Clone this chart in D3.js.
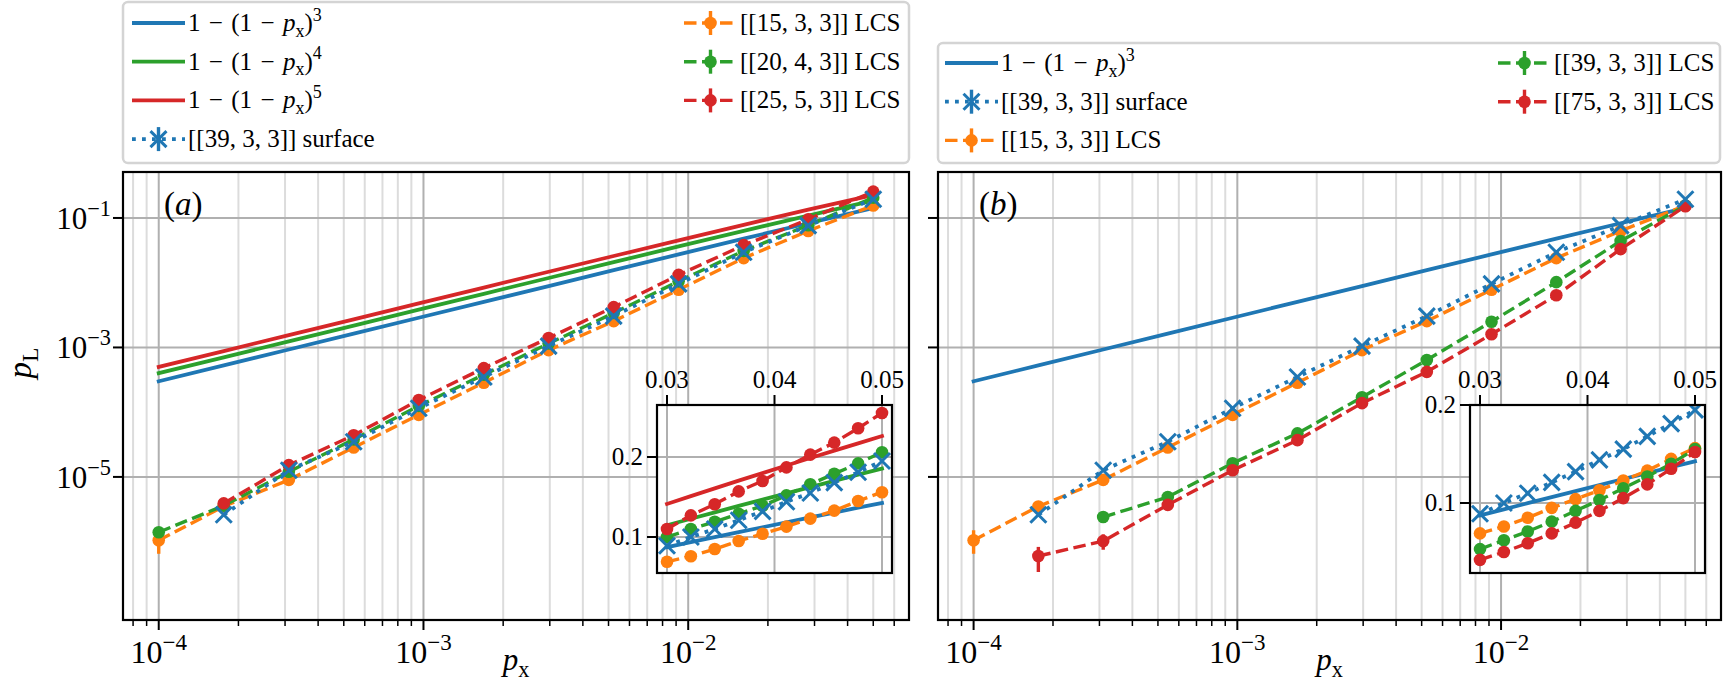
<!DOCTYPE html>
<html>
<head>
<meta charset="utf-8">
<script src="https://cdn.jsdelivr.net/npm/d3@7"></script>
<style>
  body { margin: 0; background: #fff; }
  svg { display: block; font-family: "Liberation Serif", "DejaVu Serif", serif; }
</style>
</head>
<body>
<svg id="chart" width="1725" height="683"></svg>
<script>
// physical error rates (main panels, log axis) and the zoomed inset range
const pxMain = [1e-4, 1.76e-4, 3.10e-4, 5.45e-4, 9.6e-4, 1.69e-3, 2.97e-3, 5.23e-3, 9.2e-3, 1.62e-2, 2.84e-2, 5.0e-2];
const pxInset = [0.03, 0.03222, 0.03444, 0.03667, 0.03889, 0.04111, 0.04333, 0.04556, 0.04778, 0.05];

// 1-(1-px)^n reference curves, read at the same px
const ref3 = [3.0e-4, 5.28e-4, 9.30e-4, 1.634e-3, 2.877e-3, 5.061e-3, 8.884e-3, 1.561e-2, 2.735e-2, 4.782e-2, 8.28e-2, 0.1426];
const ref4 = [4.0e-4, 7.04e-4, 1.24e-3, 2.178e-3, 3.835e-3, 6.743e-3, 1.183e-2, 2.074e-2, 3.63e-2, 6.32e-2, 0.1089, 0.1855];
const ref5 = [5.0e-4, 8.80e-4, 1.549e-3, 2.722e-3, 4.791e-3, 8.42e-3, 1.476e-2, 2.587e-2, 4.516e-2, 7.84e-2, 0.1342, 0.2262];
const ref3In = [0.0873, 0.0936, 0.0998, 0.1060, 0.1122, 0.1183, 0.1245, 0.1305, 0.1366, 0.1426];
const ref4In = [0.1147, 0.1228, 0.1308, 0.1388, 0.1467, 0.1546, 0.1624, 0.1701, 0.1779, 0.1855];
const ref5In = [0.1413, 0.1511, 0.1608, 0.1704, 0.1799, 0.1893, 0.1987, 0.2080, 0.2171, 0.2262];

// logical error rates, main panels (null = not measured)
const surface39 = [null, 2.6e-6, 1.27e-5, 3.5e-5, 1.15e-4, 3.5e-4, 1.05e-3, 3.05e-3, 9.6e-3, 2.95e-2, 7.6e-2, 0.195];
const lcs15 = [1.05e-6, 3.5e-6, 9.0e-6, 2.85e-5, 9.1e-5, 2.85e-4, 9.1e-4, 2.55e-3, 7.8e-3, 2.4e-2, 6.3e-2, 0.156];
const lcs20 = [1.4e-6, 3.6e-6, 1.2e-5, 3.8e-5, 1.25e-4, 3.8e-4, 1.15e-3, 3.4e-3, 1.05e-2, 3.1e-2, 7.7e-2, 0.206];
const lcs25 = [null, 3.9e-6, 1.52e-5, 4.4e-5, 1.54e-4, 4.8e-4, 1.4e-3, 4.2e-3, 1.32e-2, 3.8e-2, 9.5e-2, 0.255];
const lcs39 = [null, null, 2.4e-6, 4.9e-6, 1.63e-5, 4.7e-5, 1.7e-4, 6.4e-4, 2.5e-3, 1.02e-2, 4.4e-2, 0.155];
const lcs75 = [null, 6.0e-7, 1.02e-6, 3.7e-6, 1.27e-5, 3.7e-5, 1.38e-4, 4.2e-4, 1.6e-3, 6.4e-3, 3.3e-2, 0.152];

// visible error bars (lower / upper)
const lcs15Lo = [6.5e-7, null, null, null, null, null, null, null, null, null, null, null];
const lcs15Hi = [1.5e-6, null, null, null, null, null, null, null, null, null, null, null];
const lcs75Lo = [null, 3.4e-7, 7.5e-7, null, null, null, null, null, null, null, null, null];
const lcs75Hi = [null, 8.3e-7, 1.3e-6, null, null, null, null, null, null, null, null, null];

// inset values
const surface39In = [0.089, 0.100, 0.110, 0.121, 0.132, 0.144, 0.155, 0.168, 0.181, 0.195];
const lcs15In = [0.069, 0.076, 0.085, 0.095, 0.104, 0.113, 0.123, 0.133, 0.145, 0.156];
const lcs20In = [0.100, 0.110, 0.119, 0.129, 0.139, 0.152, 0.166, 0.179, 0.192, 0.206];
const lcs25In = [0.110, 0.127, 0.141, 0.157, 0.170, 0.187, 0.203, 0.218, 0.236, 0.255];
const lcs39In = [0.053, 0.062, 0.071, 0.081, 0.092, 0.103, 0.115, 0.127, 0.140, 0.155];
const lcs75In = [0.042, 0.050, 0.059, 0.069, 0.080, 0.092, 0.105, 0.119, 0.135, 0.152];

const yTicksMain = [1e-5, 1e-3, 1e-1];
const xTicksInset = [0.03, 0.04, 0.05];
const yTicksInset = [0.1, 0.2];

const C = { blue: "#1f77b4", orange: "#ff7f0e", green: "#2ca02c", red: "#d62728" };
const svg = d3.select("#chart");

const axTop = 172, axBottom = 620;
const xDomain = [Math.pow(10, -4.135), Math.pow(10, -1.166)];
const yDomain = [Math.pow(10, -7.21), Math.pow(10, -0.29)];
const SP = "\u2004"; // wider space around binary minus, like TeX math

function richText(g, x, y, parts, size, anchor) {
    const t = g.append("text")
        .attr("x", x).attr("y", y)
        .attr("font-size", size)
        .attr("text-anchor", anchor || "start")
        .attr("fill", "#000");
    let shift = 0;
    parts.forEach(p => {
        let target = 0, fs = size;
        if (p.sub) { target = size * 0.22; fs = size * 0.72; }
        if (p.sup) { target = -size * 0.42; fs = size * 0.72; }
        const s = t.append("tspan").attr("dy", target - shift).attr("font-size", fs).text(p.t);
        if (p.it) s.attr("font-style", "italic");
        shift = target;
    });
    return t;
}

const refLabel = n => [{ t: `1${SP}−${SP}(1${SP}−${SP}` }, { t: "p", it: true }, { t: "x", sub: true }, { t: ")" }, { t: n, sup: true }];
const pow10Label = v => [{ t: "10" }, { t: "−" + Math.abs(Math.round(Math.log10(v))), sup: true }];
const isDecade = v => Math.abs(Math.log10(v) - Math.round(Math.log10(v))) < 1e-6;

const styles = {
    ref: { dash: null, width: 3.8 },
    lcs: { dash: "12.5,5.5", width: 3.4 },
    surface: { dash: "3.8,6.2", width: 3.8 }
};

function drawMarker(g, kind, cx, cy, color) {
    if (kind === "surface") {
        g.append("path")
            .attr("d", `M${cx - 8},${cy - 8}L${cx + 8},${cy + 8}M${cx - 8},${cy + 8}L${cx + 8},${cy - 8}`)
            .attr("stroke", color).attr("stroke-width", 3).attr("fill", "none");
    } else if (kind === "lcs") {
        g.append("circle").attr("cx", cx).attr("cy", cy).attr("r", 6.3).attr("fill", color);
    }
}

function drawSeries(g, x, y, xs, s) {
    const pts = xs.map((v, i) => ({ x: v, y: s.vals[i], lo: s.lo ? s.lo[i] : null, hi: s.hi ? s.hi[i] : null }))
        .filter(d => d.y != null);
    const st = styles[s.kind];
    const line = d3.line().x(d => x(d.x)).y(d => y(d.y));
    g.append("path").datum(pts)
        .attr("d", line)
        .attr("fill", "none")
        .attr("stroke", s.color)
        .attr("stroke-width", st.width)
        .attr("stroke-dasharray", st.dash)
        .attr("stroke-linecap", s.kind === "ref" ? "square" : "butt");
    pts.forEach(d => {
        if (d.lo != null) {
            g.append("line")
                .attr("x1", x(d.x)).attr("x2", x(d.x))
                .attr("y1", y(d.lo)).attr("y2", y(d.hi))
                .attr("stroke", s.color).attr("stroke-width", 3.4);
        }
        drawMarker(g, s.kind, x(d.x), y(d.y), s.color);
    });
}

function drawMain(p) {
    const x = d3.scaleLog().domain(xDomain).range([p.left, p.right]);
    const y = d3.scaleLog().domain(yDomain).range([axBottom, axTop]);
    const g = svg.append("g");
    const clipId = "clip-" + p.tag;
    svg.append("clipPath").attr("id", clipId).append("rect")
        .attr("x", p.left).attr("y", axTop).attr("width", p.right - p.left).attr("height", axBottom - axTop);

    const xt = x.ticks();
    // grid
    xt.filter(v => !isDecade(v)).forEach(v => {
        g.append("line").attr("x1", x(v)).attr("x2", x(v)).attr("y1", axTop).attr("y2", axBottom)
            .attr("stroke", "#dcdcdc").attr("stroke-width", 2);
    });
    xt.filter(isDecade).forEach(v => {
        g.append("line").attr("x1", x(v)).attr("x2", x(v)).attr("y1", axTop).attr("y2", axBottom)
            .attr("stroke", "#b0b0b0").attr("stroke-width", 2);
    });
    yTicksMain.forEach(v => {
        g.append("line").attr("x1", p.left).attr("x2", p.right).attr("y1", y(v)).attr("y2", y(v))
            .attr("stroke", "#b0b0b0").attr("stroke-width", 2);
    });

    const data = g.append("g").attr("clip-path", `url(#${clipId})`);
    p.series.forEach(s => drawSeries(data, x, y, pxMain, s));

    // spines and ticks
    g.append("rect").attr("x", p.left).attr("y", axTop)
        .attr("width", p.right - p.left).attr("height", axBottom - axTop)
        .attr("fill", "none").attr("stroke", "#000").attr("stroke-width", 2.2);
    xt.forEach(v => {
        const major = isDecade(v);
        g.append("line").attr("x1", x(v)).attr("x2", x(v))
            .attr("y1", axBottom).attr("y2", axBottom + (major ? 10 : 6))
            .attr("stroke", "#000").attr("stroke-width", major ? 2 : 1.5);
        if (major) richText(g, x(v), axBottom + 43, pow10Label(v), 32, "middle");
    });
    yTicksMain.forEach(v => {
        g.append("line").attr("x1", p.left - 10).attr("x2", p.left)
            .attr("y1", y(v)).attr("y2", y(v))
            .attr("stroke", "#000").attr("stroke-width", 2);
        if (p.tag === "a") richText(g, p.left - 12, y(v) + 11, pow10Label(v), 31, "end");
    });

    // panel tag
    richText(g, p.left + 41, 215, [{ t: "(" }, { t: p.tag, it: true }, { t: ")" }], 33);
    // x label
    richText(g, (p.left + p.right) / 2, 670, [{ t: "p", it: true }, { t: "x", sub: true }], 31, "middle");

    drawInset(p.inset);
    drawLegend(p.legend);
}

function drawInset(ins) {
    const x = d3.scaleLinear().domain([0.02907, 0.05093]).range([ins.left, ins.right]);
    const y = d3.scaleLinear().domain(ins.yDomain).range([ins.bottom, ins.top]);
    const g = svg.append("g");
    const clipId = "clip-inset-" + ins.left;
    svg.append("clipPath").attr("id", clipId).append("rect")
        .attr("x", ins.left).attr("y", ins.top).attr("width", ins.right - ins.left).attr("height", ins.bottom - ins.top);

    g.append("rect").attr("x", ins.left).attr("y", ins.top)
        .attr("width", ins.right - ins.left).attr("height", ins.bottom - ins.top)
        .attr("fill", "#fff");
    xTicksInset.forEach(v => {
        g.append("line").attr("x1", x(v)).attr("x2", x(v)).attr("y1", ins.top).attr("y2", ins.bottom)
            .attr("stroke", "#b0b0b0").attr("stroke-width", 2);
    });
    yTicksInset.forEach(v => {
        g.append("line").attr("x1", ins.left).attr("x2", ins.right).attr("y1", y(v)).attr("y2", y(v))
            .attr("stroke", "#b0b0b0").attr("stroke-width", 2);
    });

    const data = g.append("g").attr("clip-path", `url(#${clipId})`);
    ins.series.forEach(s => drawSeries(data, x, y, pxInset, s));

    g.append("rect").attr("x", ins.left).attr("y", ins.top)
        .attr("width", ins.right - ins.left).attr("height", ins.bottom - ins.top)
        .attr("fill", "none").attr("stroke", "#000").attr("stroke-width", 2.2);
    xTicksInset.forEach(v => {
        g.append("line").attr("x1", x(v)).attr("x2", x(v)).attr("y1", ins.top - 10).attr("y2", ins.top)
            .attr("stroke", "#000").attr("stroke-width", 2);
        g.append("text").attr("x", x(v)).attr("y", ins.top - 17)
            .attr("text-anchor", "middle").attr("font-size", 25).text(v.toFixed(2));
    });
    yTicksInset.forEach(v => {
        g.append("line").attr("x1", ins.left - 10).attr("x2", ins.left).attr("y1", y(v)).attr("y2", y(v))
            .attr("stroke", "#000").attr("stroke-width", 2);
        g.append("text").attr("x", ins.left - 14).attr("y", y(v) + 8)
            .attr("text-anchor", "end").attr("font-size", 25).text(v.toFixed(1));
    });
}

function drawLegend(lg) {
    const g = svg.append("g");
    g.append("rect").attr("x", lg.x0).attr("y", lg.y0)
        .attr("width", lg.x1 - lg.x0).attr("height", lg.y1 - lg.y0)
        .attr("rx", 5).attr("fill", "#fff").attr("stroke", "#d4d4d4").attr("stroke-width", 2.5);
    lg.items.forEach((it, i) => {
        const col = i < lg.perCol ? 0 : 1;
        const row = col === 0 ? i : i - lg.perCol;
        const hx = lg.cols[col];
        const cy = lg.rowTop + row * 38.7;
        const st = styles[it.kind];
        g.append("line").attr("x1", hx).attr("x2", hx + 53).attr("y1", cy).attr("y2", cy)
            .attr("stroke", it.color).attr("stroke-width", st.width)
            .attr("stroke-dasharray", st.dash);
        if (it.kind !== "ref") {
            g.append("line").attr("x1", hx + 26.5).attr("x2", hx + 26.5).attr("y1", cy - 12).attr("y2", cy + 12)
                .attr("stroke", it.color).attr("stroke-width", 3.4);
            drawMarker(g, it.kind, hx + 26.5, cy, it.color);
        }
        richText(g, hx + 56, cy + 8, it.label, 25);
    });
}

const codeLabel = (s, word) => [{ t: s + " " + word }];

const serRef3 = { vals: ref3, color: C.blue, kind: "ref" };
const serRef4 = { vals: ref4, color: C.green, kind: "ref" };
const serRef5 = { vals: ref5, color: C.red, kind: "ref" };
const serSurf = { vals: surface39, color: C.blue, kind: "surface" };
const ser15 = { vals: lcs15, color: C.orange, kind: "lcs", lo: lcs15Lo, hi: lcs15Hi };
const ser20 = { vals: lcs20, color: C.green, kind: "lcs" };
const ser25 = { vals: lcs25, color: C.red, kind: "lcs" };
const ser39 = { vals: lcs39, color: C.green, kind: "lcs" };
const ser75 = { vals: lcs75, color: C.red, kind: "lcs", lo: lcs75Lo, hi: lcs75Hi };

const panels = [
    {
        tag: "a", left: 123, right: 909,
        series: [serRef3, serRef4, serRef5, ser15, ser20, ser25, serSurf],
        inset: {
            left: 657, right: 892, top: 405, bottom: 573, yDomain: [0.055, 0.265],
            series: [
                { vals: ref3In, color: C.blue, kind: "ref" },
                { vals: ref4In, color: C.green, kind: "ref" },
                { vals: ref5In, color: C.red, kind: "ref" },
                { vals: lcs15In, color: C.orange, kind: "lcs" },
                { vals: lcs20In, color: C.green, kind: "lcs" },
                { vals: lcs25In, color: C.red, kind: "lcs" },
                { vals: surface39In, color: C.blue, kind: "surface" }
            ]
        },
        legend: {
            x0: 123, x1: 909, y0: 2, y1: 163, rowTop: 23, perCol: 4, cols: [132, 684],
            items: [
                { kind: "ref", color: C.blue, label: refLabel("3") },
                { kind: "ref", color: C.green, label: refLabel("4") },
                { kind: "ref", color: C.red, label: refLabel("5") },
                { kind: "surface", color: C.blue, label: codeLabel("[[39, 3, 3]]", "surface") },
                { kind: "lcs", color: C.orange, label: codeLabel("[[15, 3, 3]]", "LCS") },
                { kind: "lcs", color: C.green, label: codeLabel("[[20, 4, 3]]", "LCS") },
                { kind: "lcs", color: C.red, label: codeLabel("[[25, 5, 3]]", "LCS") }
            ]
        }
    },
    {
        tag: "b", left: 938, right: 1721,
        series: [serRef3, ser15, ser39, ser75, serSurf],
        inset: {
            left: 1470, right: 1705, top: 405, bottom: 573, yDomain: [0.0286, 0.2],
            series: [
                { vals: ref3In, color: C.blue, kind: "ref" },
                { vals: lcs15In, color: C.orange, kind: "lcs" },
                { vals: lcs39In, color: C.green, kind: "lcs" },
                { vals: lcs75In, color: C.red, kind: "lcs" },
                { vals: surface39In, color: C.blue, kind: "surface" }
            ]
        },
        legend: {
            x0: 938, x1: 1720, y0: 43, y1: 163, rowTop: 63, perCol: 3, cols: [945, 1498],
            items: [
                { kind: "ref", color: C.blue, label: refLabel("3") },
                { kind: "surface", color: C.blue, label: codeLabel("[[39, 3, 3]]", "surface") },
                { kind: "lcs", color: C.orange, label: codeLabel("[[15, 3, 3]]", "LCS") },
                { kind: "lcs", color: C.green, label: codeLabel("[[39, 3, 3]]", "LCS") },
                { kind: "lcs", color: C.red, label: codeLabel("[[75, 3, 3]]", "LCS") }
            ]
        }
    }
];

panels.forEach(drawMain);

// shared y label
const yl = svg.append("g").attr("transform", "translate(31,363) rotate(-90)");
richText(yl, 0, 0, [{ t: "p", it: true }, { t: "L", sub: true }], 33, "middle");
</script>
</body>
</html>
